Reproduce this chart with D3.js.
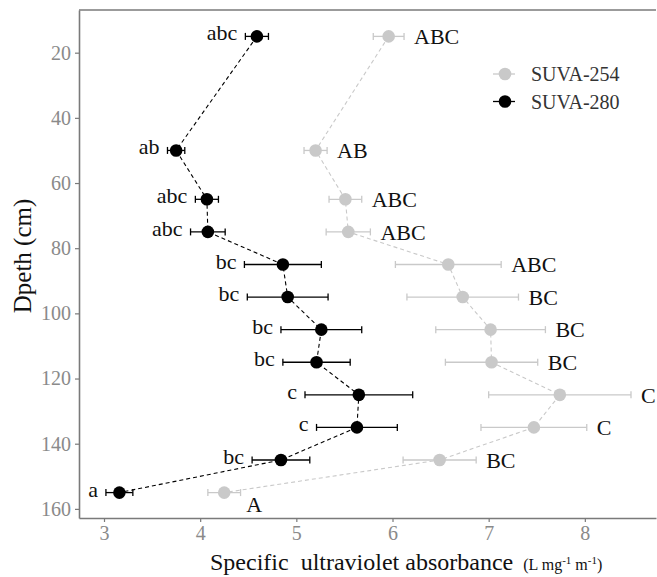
<!DOCTYPE html>
<html>
<head>
<meta charset="utf-8">
<script src="https://cdn.jsdelivr.net/npm/d3@7"></script>
<style>
  body { margin: 0; background: #fff; }
  text { font-family: "Liberation Serif", "DejaVu Serif", serif; }
</style>
</head>
<body>
<svg id="chart"></svg>
<script>
// depths sampled (cm)
var depth = [15, 50, 65, 75, 85, 95, 105, 115, 125, 135, 145, 155];

// SUVA-254 mean and error
var suva254 = [5.96, 5.20, 5.51, 5.54, 6.58, 6.73, 7.02, 7.03, 7.74, 7.47, 6.49, 4.25];
var err254  = [0.16, 0.12, 0.17, 0.23, 0.55, 0.58, 0.57, 0.48, 0.74, 0.55, 0.38, 0.17];
var lab254  = ["ABC", "AB", "ABC", "ABC", "ABC", "BC", "BC", "BC", "C", "C", "BC", "A"];

// SUVA-280 mean and error
var suva280 = [4.59, 3.75, 4.07, 4.08, 4.86, 4.91, 5.26, 5.21, 5.65, 5.63, 4.84, 3.16];
var err280  = [0.12, 0.09, 0.12, 0.18, 0.40, 0.42, 0.42, 0.35, 0.56, 0.42, 0.30, 0.14];
var lab280  = ["abc", "ab", "abc", "abc", "bc", "bc", "bc", "bc", "c", "c", "bc", "a"];

var xTicks = [3, 4, 5, 6, 7, 8];
var yTicks = [20, 40, 60, 80, 100, 120, 140, 160];

var svgWidth = 657, svgHeight = 577;
var pLeft = 79, pTop = 10, pRight = 656, pBottom = 518;

var svg = d3.select('#chart')
    .attr("width", svgWidth)
    .attr("height", svgHeight);

var x = d3.scaleLinear()
    .domain([2.74, 8.74])
    .range([pLeft, pRight]);

var y = d3.scaleLinear()
    .domain([6.9, 162.8])
    .range([pTop, pBottom]);

/*
Axes
*/
var gx = svg.append("g")
    .attr("transform", "translate(0," + pBottom + ")")
    .call(d3.axisBottom(x).tickValues(xTicks).tickFormat(d3.format("d"))
        .tickSize(4).tickPadding(4).tickSizeOuter(0));

var gy = svg.append("g")
    .attr("transform", "translate(" + pLeft + ",0)")
    .call(d3.axisLeft(y).tickValues(yTicks).tickSize(4).tickPadding(4).tickSizeOuter(0));

[gx, gy].forEach(function(g) {
    g.select(".domain").attr("stroke", "#7a7a7a").attr("stroke-width", 1.6);
    g.selectAll(".tick line").attr("stroke", "#7a7a7a").attr("stroke-width", 1.2);
    g.selectAll(".tick text")
        .attr("fill", "#8a8a8a")
        .style("font-family", "'Liberation Serif', serif")
        .style("font-size", "20px");
});

// top border of the panel
svg.append("line")
    .attr("x1", pLeft).attr("x2", pRight)
    .attr("y1", pTop).attr("y2", pTop)
    .attr("stroke", "#7a7a7a")
    .attr("stroke-width", 1.6);

/*
Series
*/
function drawSeries(vals, errs, color, dash) {
    var pts = depth.map(function(d, i) { return { d: d, v: vals[i], e: errs[i] }; });

    var line = d3.line()
        .x(function(p) { return x(p.v); })
        .y(function(p) { return y(p.d); });

    svg.append("path")
        .datum(pts)
        .attr("fill", "none")
        .attr("stroke", color)
        .attr("stroke-width", 1.1)
        .attr("stroke-dasharray", dash)
        .attr("d", line);

    var eb = svg.append("g").attr("stroke", color).attr("stroke-width", 1.3);
    pts.forEach(function(p) {
        eb.append("line")
            .attr("x1", x(p.v - p.e)).attr("x2", x(p.v + p.e))
            .attr("y1", y(p.d)).attr("y2", y(p.d));
        [p.v - p.e, p.v + p.e].forEach(function(c) {
            eb.append("line")
                .attr("x1", x(c)).attr("x2", x(c))
                .attr("y1", y(p.d) - 3.5).attr("y2", y(p.d) + 3.5);
        });
    });

    svg.append("g").selectAll("circle")
        .data(pts)
        .enter().append("circle")
        .attr("cx", function(p) { return x(p.v); })
        .attr("cy", function(p) { return y(p.d); })
        .attr("r", 6.3)
        .attr("fill", color);

    return pts;
}

var grey = "#c9c9c9";
var p254 = drawSeries(suva254, err254, grey, "4,3");
var p280 = drawSeries(suva280, err280, "#000", "4,3");

/*
Letters
*/
svg.append("g").selectAll("text")
    .data(p280)
    .enter().append("text")
    .attr("x", function(p) { return x(p.v - p.e) - 8; })
    .attr("y", function(p) { return y(p.d) - 3; })
    .attr("dy", "0.32em")
    .attr("text-anchor", "end")
    .attr("fill", "#111")
    .style("font-size", "22px")
    .text(function(p, i) { return lab280[i]; });

svg.append("g").selectAll("text")
    .data(p254)
    .enter().append("text")
    .attr("x", function(p, i) { return i == p254.length - 1 ? x(p.v) + 22 : x(p.v + p.e) + 10; })
    .attr("y", function(p, i) { return i == p254.length - 1 ? y(p.d) + 12 : y(p.d); })
    .attr("dy", "0.35em")
    .attr("fill", "#111")
    .style("font-size", "22px")
    .text(function(p, i) { return lab254[i]; });

/*
Legend
*/
var legend = [
    { name: "SUVA-254", color: grey },
    { name: "SUVA-280", color: "#000" }
];
var lg = svg.append("g").attr("transform", "translate(493,74)");
legend.forEach(function(l, i) {
    var row = lg.append("g").attr("transform", "translate(0," + (i * 27.5) + ")");
    row.append("line")
        .attr("x1", 0).attr("x2", 22)
        .attr("stroke", l.color).attr("stroke-width", 1.3);
    row.append("circle")
        .attr("cx", 12).attr("r", 6.3).attr("fill", l.color);
    row.append("text")
        .attr("x", 38).attr("dy", "0.35em")
        .attr("fill", "#333")
        .style("font-size", "20px")
        .text(l.name);
});

/*
Axis titles
*/
var xt = svg.append("text")
    .attr("x", 210)
    .attr("y", 570)
    .attr("fill", "#111")
    .style("font-size", "24px");
xt.append("tspan").text("Specific");
xt.append("tspan").attr("dx", 12).text("ultraviolet absorbance");
var unit = xt.append("tspan").attr("dx", 10).style("font-size", "16px");
unit.append("tspan").text("(L mg");
unit.append("tspan").attr("dy", -6).style("font-size", "11px").text("-1");
unit.append("tspan").attr("dy", 6).text(" m");
unit.append("tspan").attr("dy", -6).style("font-size", "11px").text("-1");
unit.append("tspan").attr("dy", 6).text(")");

svg.append("text")
    .attr("transform", "translate(31,256) rotate(-90)")
    .attr("text-anchor", "middle")
    .attr("fill", "#111")
    .style("font-size", "25px")
    .text("Dpeth (cm)");
</script>
</body>
</html>
